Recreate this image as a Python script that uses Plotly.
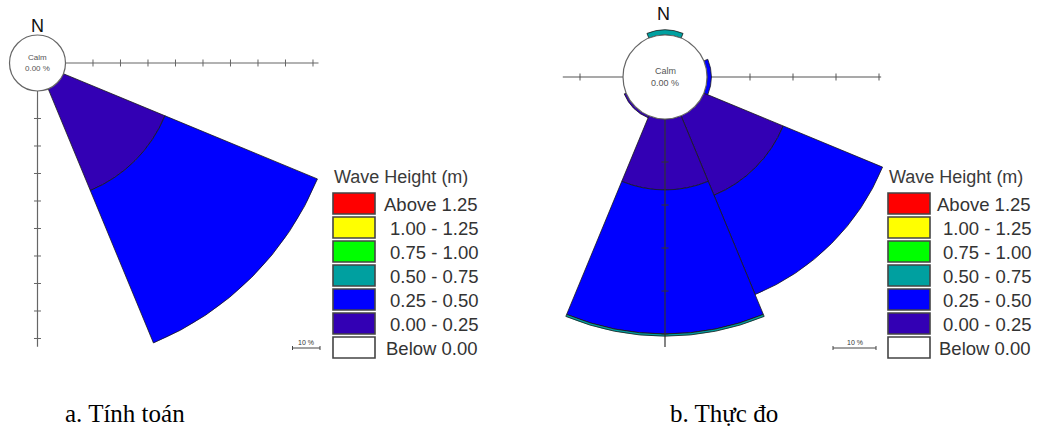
import numpy as np
import plotly.graph_objects as go

W, H = 1043, 427

# ---------------- data ----------------
directions = ["N", "NE", "E", "SE", "S", "SW", "W", "NW"]
bearings = [0, 45, 90, 135, 180, 225, 270, 315]
bin_labels = ["Below 0.00", "0.00 - 0.25", "0.25 - 0.50", "0.50 - 0.75",
              "0.75 - 1.00", "1.00 - 1.25", "Above 1.25"]
bin_colors = ["#ffffff", "#3300b4", "#0000ff", "#00a0a0",
              "#00ff00", "#ffff00", "#ff0000"]

# a. Tính toán (computed) – frequency in % per direction
calc_below_000 = [0, 0, 0, 0, 0, 0, 0, 0]
calc_000_025 = [0, 0, 0, 40.0, 0, 0, 0, 0]
calc_025_050 = [0, 0, 0, 60.0, 0, 0, 0, 0]
calc_050_075 = [0, 0, 0, 0, 0, 0, 0, 0]
calc_075_100 = [0, 0, 0, 0, 0, 0, 0, 0]
calc_100_125 = [0, 0, 0, 0, 0, 0, 0, 0]
calc_above_125 = [0, 0, 0, 0, 0, 0, 0, 0]
calc_calm = 0.00

# b. Thực đo (measured) – frequency in % per direction
meas_below_000 = [0, 0, 0, 0, 0, 0, 0, 0]
meas_000_025 = [0, 0, 0, 20.0, 16.5, 0.5, 0, 0]
meas_025_050 = [0, 0, 1.0, 25.0, 33.5, 0, 0, 0]
meas_050_075 = [1.2, 0, 0, 0, 0.5, 0, 0, 0]
meas_075_100 = [0, 0, 0, 0, 0, 0, 0, 0]
meas_100_125 = [0, 0, 0, 0, 0, 0, 0, 0]
meas_above_125 = [0, 0, 0, 0, 0, 0, 0, 0]
meas_calm = 0.00

captions = ["a. Tính toán", "b. Thực đo"]
legend_title = "Wave Height (m)"
scale_label = "10 %"

calc_bins = [calc_below_000, calc_000_025, calc_025_050, calc_050_075,
             calc_075_100, calc_100_125, calc_above_125]
meas_bins = [meas_below_000, meas_000_025, meas_025_050, meas_050_075,
             meas_075_100, meas_100_125, meas_above_125]

# ---------------- geometry helpers (layout only) ----------------
def px_x(x):
    return x / W

def px_y(y):
    return 1 - y / H

def sector_bbox(sector):
    s0, s1 = sector
    angs = [s0, s1] + [a for a in range(-360, 721, 90) if s0 <= a <= s1]
    a = np.radians(angs)
    xs = np.concatenate([np.cos(a), [0.0]])
    ys = np.concatenate([np.sin(a), [0.0]])
    return xs.min(), ys.min(), xs.max(), ys.max()

def polar_cfg(cx, cy, hole_px, scale, rmax, sector):
    R = hole_px + scale * rmax
    bx0, by0, bx1, by1 = sector_bbox(sector)
    left, right = cx + bx0 * R, cx + bx1 * R
    top, bottom = cy - by1 * R, cy - by0 * R
    return dict(
        domain=dict(x=[px_x(left), px_x(right)], y=[px_y(bottom), px_y(top)]),
        sector=list(sector),
        hole=hole_px / R,
        bgcolor="rgba(0,0,0,0)",
        barmode="stack",
        radialaxis=dict(visible=False, range=[0, rmax]),
        angularaxis=dict(visible=False, rotation=90, direction="clockwise"),
    )

fig = go.Figure()

def add_rose(subplot, bins, idx):
    for vals, color, name in zip(bins, bin_colors, bin_labels):
        fig.add_trace(go.Barpolar(
            r=[vals[i] for i in idx], theta=[bearings[i] for i in idx],
            width=45, name=name, subplot=subplot, showlegend=False,
            hoverinfo="skip",
            marker=dict(color=color, line=dict(color="#1a1a1a", width=0.8)),
        ))

def add_axis(subplot, theta, r_end, ticks, symbol, color="#555555"):
    fig.add_trace(go.Scatterpolar(
        r=[0, r_end], theta=[theta, theta], mode="lines", subplot=subplot,
        line=dict(color=color, width=1.2), cliponaxis=False,
        showlegend=False, hoverinfo="skip"))
    fig.add_trace(go.Scatterpolar(
        r=ticks, theta=[theta] * len(ticks), mode="markers", subplot=subplot,
        marker=dict(symbol=symbol, size=5, color=color,
                    line=dict(color=color, width=1)),
        cliponaxis=False, showlegend=False, hoverinfo="skip"))

shapes, annotations = [], []

def note(text, x, y, size, color="#333333", family="Arial", xanchor="center"):
    annotations.append(dict(text=text, x=px_x(x), y=px_y(y), xref="paper", yref="paper",
                            xanchor=xanchor, yanchor="middle", showarrow=False,
                            font=dict(family=family, size=size, color=color)))

def add_calm(cx, cy, hole_px, calm, fs, dy):
    shapes.append(dict(type="circle", xref="paper", yref="paper", layer="above",
                       x0=px_x(cx - hole_px), x1=px_x(cx + hole_px),
                       y0=px_y(cy + hole_px), y1=px_y(cy - hole_px),
                       fillcolor="white", line=dict(color="#666666", width=1.2)))
    note("Calm", cx, cy - dy, fs, "#555555")
    note(f"{calm:.2f} %", cx, cy + dy, fs, "#555555")

def add_legend(lx, ty, label_right):
    note(legend_title, lx - 1, ty, 18, "#3a3a3a", xanchor="left")
    top0 = ty + 16
    for k, (name, color) in enumerate(zip(bin_labels[::-1], bin_colors[::-1])):
        y0 = top0 + k * 24
        shapes.append(dict(type="rect", xref="paper", yref="paper",
                           x0=px_x(lx), x1=px_x(lx + 42), y0=px_y(y0 + 21), y1=px_y(y0),
                           fillcolor=color, line=dict(color="#444444", width=1.6)))
        note(name, label_right, y0 + 11, 18.5, "#333333", xanchor="right")

def add_scalebar(x0, y, scale):
    x1 = x0 + 10 * scale
    shapes.append(dict(type="line", xref="paper", yref="paper", x0=px_x(x0), x1=px_x(x1),
                       y0=px_y(y), y1=px_y(y), line=dict(color="#444444", width=1)))
    for xx in (x0, x1):
        shapes.append(dict(type="line", xref="paper", yref="paper", x0=px_x(xx), x1=px_x(xx),
                           y0=px_y(y - 2), y1=px_y(y + 2), line=dict(color="#444444", width=1)))
    note(scale_label, (x0 + x1) / 2, y - 6, 7)

# ---------------- chart a: Tính toán ----------------
A_cx, A_cy, A_hole, A_scale, A_rmax = 37.5, 63, 28, 2.75, 101
polar_a = polar_cfg(A_cx, A_cy, A_hole, A_scale, A_rmax, (268, 362))
add_rose("polar", calc_bins, list(range(len(directions))))
add_axis("polar", 90, 92, [10, 20, 30, 40, 50, 60, 70, 80, 90], "line-ns", "#666666")
add_axis("polar", 180, 93, [10, 20, 30, 40, 50, 60, 70, 80, 90], "line-ew", "#666666")
add_calm(A_cx, A_cy, A_hole, calc_calm, 8, 6)
note("N", A_cx, 26, 18, "#111111")
add_legend(333, 177, 480)
add_scalebar(292.5, 348, A_scale)

# ---------------- chart b: Thực đo ----------------
B_cx, B_cy, B_hole, B_scale = 665, 77, 42, 4.3
B_rmax_big, B_rmax_small = 55, 3
totals = [sum(b[i] for b in meas_bins) for i in range(len(directions))]
big_idx = [i for i in range(len(directions)) if totals[i] > B_rmax_small]
small_idx = [i for i in range(len(directions)) if 0 < totals[i] <= B_rmax_small]
polar_b = polar_cfg(B_cx, B_cy, B_hole, B_scale, B_rmax_big, (178, 362))
polar_b2 = polar_cfg(B_cx, B_cy, B_hole, B_scale, B_rmax_small, (0, 360))
add_rose("polar2", meas_bins, big_idx)
add_axis("polar2", 270, 14, [10], "line-ns")
add_axis("polar2", 90, 40.5, [10, 20, 30, 40], "line-ns")
add_axis("polar2", 180, 53, [10, 20, 30, 40, 50], "line-ew", color="#333333")
add_rose("polar3", meas_bins, small_idx)
add_calm(B_cx, B_cy, B_hole, meas_calm, 9, 6)
note("N", B_cx - 2, 14, 18, "#111111")
add_legend(888, 177, 1033)
add_scalebar(833, 348, B_scale)

# captions
for text, x in zip(captions, [63, 668]):
    note(text, x, 413, 25, "#000000", family="Times New Roman, Liberation Serif",
         xanchor="left")

fig.update_layout(
    width=W, height=H, margin=dict(l=0, r=0, t=0, b=0),
    paper_bgcolor="white", plot_bgcolor="white", showlegend=False,
    polar=polar_a, polar2=polar_b, polar3=polar_b2,
    shapes=shapes, annotations=annotations,
)

fig.write_html("out.html")
